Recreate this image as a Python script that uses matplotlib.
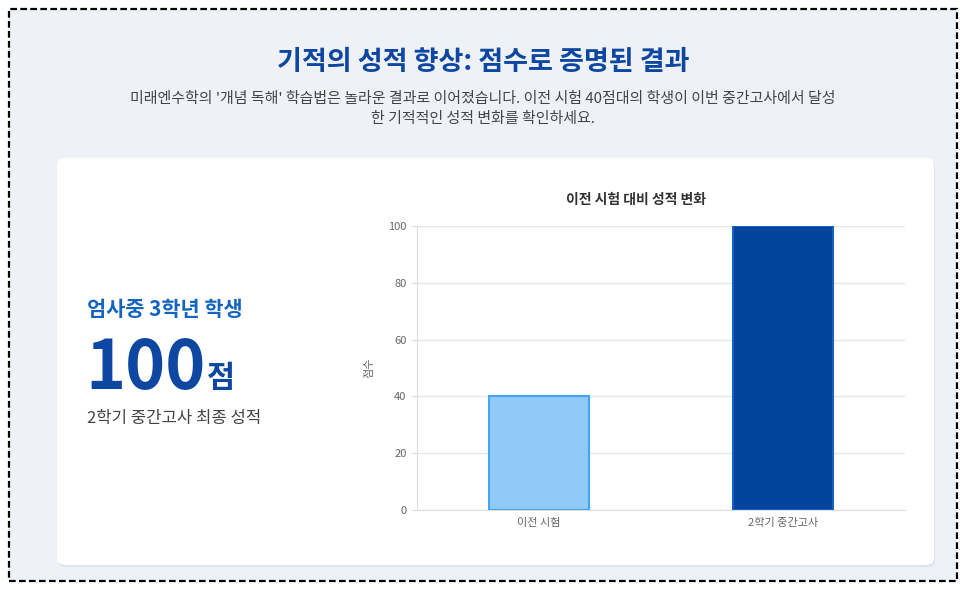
import matplotlib
matplotlib.use("Agg")
import matplotlib.pyplot as plt
from matplotlib.patches import FancyBboxPatch, Rectangle

plt.rcParams['font.family'] = ['Noto Sans CJK KR', 'DejaVu Sans']

categories = ['이전 시험', '2학기 중간고사']
scores = [40, 100]
bar_colors = ['#90caf9', '#02439c']
edge_colors = ['#42a5f5', '#1565c0']
yticks = [0, 20, 40, 60, 80, 100]

W, H = 966, 590
fig = plt.figure(figsize=(W/100, H/100), dpi=100)
fig.patch.set_facecolor('white')

def fx(x): return x / W
def fy(y): return 1 - y / H

bg = Rectangle((fx(9), fy(581)), fx(948), (581-9)/H, transform=fig.transFigure, zorder=-3,
               facecolor='#eef2f7', edgecolor='black', linewidth=1.6, linestyle=(0, (3, 1.5)))
fig.patches.append(bg)
shadow = FancyBboxPatch((fx(58), fy(567)), fx(877), (567-160)/H, transform=fig.transFigure, zorder=-2,
                        boxstyle='round,pad=0,rounding_size=0.01', facecolor='#dde3ea', edgecolor='none')
fig.patches.append(shadow)
card = FancyBboxPatch((fx(57), fy(565)), fx(877), (565-158)/H, transform=fig.transFigure, zorder=-1,
                      boxstyle='round,pad=0,rounding_size=0.01', facecolor='white', edgecolor='none')
fig.patches.append(card)

fig.text(fx(483), fy(62), '기적의 성적 향상: 점수로 증명된 결과', ha='center', va='center',
         fontsize=19.5, fontweight='bold', color='#0d47a1')
fig.text(fx(483), fy(99), "미래엔수학의 '개념 독해' 학습법은 놀라운 결과로 이어졌습니다. 이전 시험 40점대의 학생이 이번 중간고사에서 달성",
         ha='center', va='center', fontsize=10.8, color='#444444')
fig.text(fx(483), fy(119), "한 기적적인 성적 변화를 확인하세요.", ha='center', va='center', fontsize=10.8, color='#444444')

fig.text(fx(87), fy(310), '엄사중 3학년 학생', ha='left', va='center', fontsize=15, fontweight='bold', color='#1565c0')
fig.text(fx(85), fy(369), '100', ha='left', va='center', fontsize=49, fontweight='bold', color='#0d47a1')
fig.text(fx(207), fy(378), '점', ha='left', va='center', fontsize=22, fontweight='bold', color='#0d47a1')
fig.text(fx(87), fy(418), '2학기 중간고사 최종 성적', ha='left', va='center', fontsize=12, color='#444444')

ax = fig.add_axes([fx(417), fy(510), (905-417)/W, (510-226)/H])
ax.set_facecolor('white')
ax.bar(range(len(categories)), scores, width=0.41, color=bar_colors, edgecolor=edge_colors, linewidth=1.5, zorder=3)
ax.set_xlim(-0.5, 1.5)
ax.set_ylim(0, 100)
ax.set_yticks(yticks)
ax.set_xticks(range(len(categories)))
ax.set_xticklabels(categories)
ax.tick_params(axis='both', labelsize=8, colors='#666666', length=4, color='#dddddd')
ax.tick_params(axis='x', length=0, pad=6)
ax.grid(axis='y', color='#e8e8e8', linewidth=1, zorder=0)
for s in ['top', 'right']:
    ax.spines[s].set_visible(False)
for s in ['left', 'bottom']:
    ax.spines[s].set_color('#dddddd')
ax.set_ylabel('점수', fontsize=8, color='#666666', labelpad=10)
fig.text(fx(636), fy(200), '이전 시험 대비 성적 변화', ha='center', va='center',
         fontsize=10, fontweight='bold', color='#333333')

fig.savefig('out.png', dpi=100, facecolor='white')
